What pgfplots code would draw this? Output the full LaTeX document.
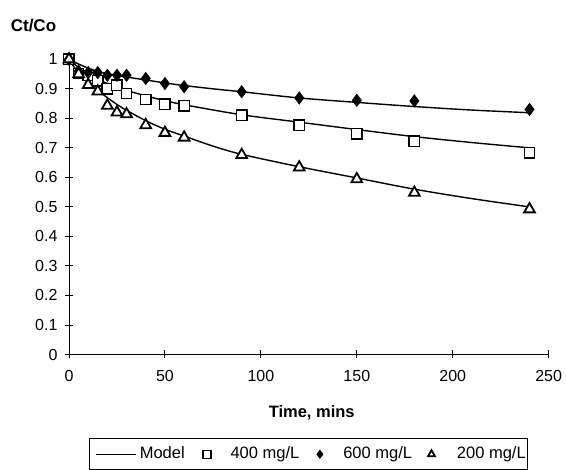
\documentclass[border=0pt]{standalone}
\usepackage{pgfplots}
\pgfplotsset{compat=1.18}
\usepackage{fontspec}
\setmainfont{Liberation Sans}
\pgfplotsset{
  modellegend/.style={legend image code/.code={\path (-3.7pt,0pt) (43pt,0pt); \draw[##1] (0pt,0pt) -- (40pt,0pt);}},
  marklegend/.style 2 args={legend image code/.code={\path (0pt,0pt) (#1pt,0pt); \draw[##1, mark size=4pt] plot coordinates {(#2pt,0pt)};}},
}
\begin{document}
\begin{tikzpicture}
\path[use as bounding box] (-69pt,-115.5pt) rectangle (497pt,354.5pt);
\begin{axis}[
  at={(0pt,0pt)}, anchor=south west,
  scale only axis, width=479.7pt, height=295.2pt,
  xmin=0, xmax=250, ymin=0, ymax=1,
  axis x line=bottom, axis y line=left,
  axis line style={-, line width=0.9pt},
  xtick={0,50,100,150,200,250},
  ytick={0,0.1,0.2,0.3,0.4,0.5,0.6,0.7,0.8,0.9,1},
  yticklabels={0,0.1,0.2,0.3,0.4,0.5,0.6,0.7,0.8,0.9,1},
  tick align=center, major tick length=8pt,
  tick style={line width=0.9pt, black},
  /pgf/number format/assume math mode=true,
  ticklabel style={font=\fontsize{16}{18}\selectfont},
  xticklabel style={yshift=-8pt},
  yticklabel style={xshift=-4pt},
  xlabel={\textbf{Time, mins}},
  xlabel style={font=\fontsize{16.5}{18}\selectfont, at={(axis description cs:0.506,-0.199)}, anchor=center},
  every axis y label/.style={at={(axis description cs:-0.074,1.116)}, anchor=center, font=\fontsize{17}{19}\selectfont},
  ylabel={\textbf{Ct/Co}},
  clip=false,
  legend columns=4,
  legend style={at={(axis description cs:0.0423,-0.284)}, anchor=north west,
    draw=black, line width=0.8pt, font=\fontsize{16.5}{18}\selectfont,
    inner xsep=2pt, inner ysep=7.5pt,
    cells={anchor=west},
    nodes={inner sep=0pt, text height=12pt, text depth=4pt},
    column sep=0pt},
]
% Model curves
\addplot[black, line width=1.4pt, smooth, no marks, modellegend] coordinates {
 (0,1.0) (5,0.984) (10,0.97) (15,0.959) (20,0.951) (30,0.94) (40,0.93) (50,0.92)
 (60,0.911) (75,0.9) (90,0.89) (120,0.869) (150,0.854) (180,0.84) (210,0.828) (240,0.819)};
\addlegendentry{Model}
\addplot[black, line width=1.4pt, smooth, no marks, forget plot] coordinates {
 (0,1.0) (5,0.972) (10,0.95) (15,0.933) (20,0.918) (30,0.895) (40,0.876) (50,0.86)
 (60,0.846) (90,0.812) (120,0.787) (150,0.762) (180,0.738) (210,0.718) (240,0.70)};
\addplot[black, line width=1.4pt, smooth, no marks, forget plot] coordinates {
 (0,1.0) (5,0.952) (10,0.92) (15,0.895) (20,0.87) (25,0.847) (30,0.827) (40,0.792)
 (50,0.763) (60,0.74) (75,0.706) (90,0.678) (120,0.636) (150,0.598) (180,0.56) (210,0.528) (240,0.50)};
% Data
\addplot[only marks, mark=square*, mark size=5.2pt, mark options={fill=white, draw=black, line width=1.4pt}, marklegend={45}{22}] coordinates {
 (0,1.0) (5,0.952) (10,0.945) (15,0.927) (20,0.9) (25,0.912) (30,0.884) (40,0.864)
 (50,0.848) (60,0.843) (90,0.811) (120,0.777) (150,0.747) (180,0.723) (240,0.683)};
\addlegendentry{400 mg/L}
\addplot[only marks, mark=diamond*, mark size=6.3pt, mark options={fill=black, draw=black}, marklegend={43.2}{20.2}] coordinates {
 (0,1.0) (5,0.96) (10,0.955) (15,0.955) (20,0.946) (25,0.946) (30,0.946) (40,0.935)
 (50,0.918) (60,0.907) (90,0.89) (120,0.869) (150,0.861) (180,0.859) (240,0.83)};
\addlegendentry{600 mg/L}
\addplot[only marks, mark=triangle*, mark size=6.2pt, mark options={fill=white, draw=black, line width=1.8pt}, marklegend={44}{19}] coordinates {
 (0,1.0) (5,0.95) (10,0.913) (15,0.891) (20,0.843) (25,0.82) (30,0.814) (40,0.777)
 (50,0.751) (60,0.735) (90,0.676) (120,0.634) (150,0.594) (180,0.548) (240,0.492)};
\addlegendentry{200 mg/L}
\end{axis}
\end{tikzpicture}
\end{document}
